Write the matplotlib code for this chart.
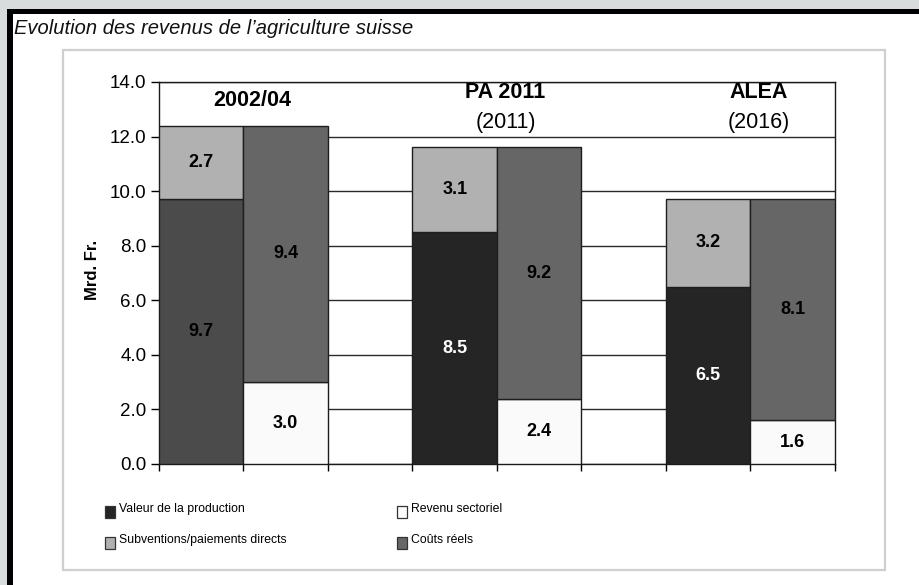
import matplotlib
matplotlib.use("Agg")
import matplotlib.pyplot as plt
from matplotlib.patches import Rectangle

# ---- data ----
groups = ["2002/04", "PA 2011", "ALEA"]
group_years = ["", "(2011)", "(2016)"]
valeur_production = [9.7, 8.5, 6.5]
subventions = [2.7, 3.1, 3.2]
revenu_sectoriel = [3.0, 2.4, 1.6]
couts_reels = [9.4, 9.2, 8.1]
legend_labels = ["Valeur de la production", "Revenu sectoriel",
                 "Subventions/paiements directs", "Coûts réels"]
yticks = [0, 2, 4, 6, 8, 10, 12, 14]

W, H = 920, 585
plt.rcParams['font.family'] = ['Liberation Sans', 'DejaVu Sans']
fig = plt.figure(figsize=(W / 100, H / 100), dpi=100)
fig.patch.set_facecolor('white')

def fx(px):
    return px / W

def fy(py):
    return 1 - py / H

# outer gray strip and black frame
fig.patches.append(Rectangle((0, fy(9)), 1, 9 / H, transform=fig.transFigure,
                             facecolor='#d9dcdc', edgecolor='none', zorder=0))
fig.patches.append(Rectangle((0, 0), fx(7), 1, transform=fig.transFigure,
                             facecolor='#d9dcdc', edgecolor='none', zorder=0))
fig.patches.append(Rectangle((fx(7), fy(14)), 1, 5 / H, transform=fig.transFigure,
                             facecolor='black', edgecolor='none', zorder=1))
fig.patches.append(Rectangle((fx(7), 0), 5.5 / W, fy(9), transform=fig.transFigure,
                             facecolor='black', edgecolor='none', zorder=1))
# inner light box
fig.patches.append(Rectangle((fx(63), fy(570)), (885 - 63) / W, (570 - 50) / H,
                             transform=fig.transFigure, facecolor='none',
                             edgecolor='#cfcfcf', lw=1.6, zorder=1))

fig.text(fx(14), fy(29), "Evolution des revenus de l\u2019agriculture suisse",
         fontsize=14.5, style='italic', ha='left', va='center', color='#111111')

ax = fig.add_axes([fx(159), fy(464), (835 - 159) / W, (464 - 82) / H])
ax.set_xlim(0, 8)
ax.set_ylim(0, 14)

c_val = ['#4b4b4b', '#252525', '#252525']
c_sub = '#b1b1b1'
c_cout = '#666666'
c_rev = '#fafafa'
edge = '#1e1e1e'
vfs = 13

for i in range(3):
    x1 = 3 * i + 0.5
    x2 = 3 * i + 1.5
    ax.bar(x1, valeur_production[i], width=1, color=c_val[i], edgecolor=edge, lw=1, zorder=3)
    ax.bar(x1, subventions[i], bottom=valeur_production[i], width=1, color=c_sub,
           edgecolor=edge, lw=1, zorder=3)
    ax.bar(x2, revenu_sectoriel[i], width=1, color=c_rev, edgecolor=edge, lw=1, zorder=3)
    ax.bar(x2, couts_reels[i], bottom=revenu_sectoriel[i], width=1, color=c_cout,
           edgecolor=edge, lw=1, zorder=3)
    vcol = 'white' if i > 0 else 'black'
    ax.text(x1, valeur_production[i] / 2, f"{valeur_production[i]:.1f}", ha='center',
            va='center', fontsize=vfs, fontweight='bold', color=vcol, zorder=5)
    ax.text(x1, valeur_production[i] + subventions[i] / 2, f"{subventions[i]:.1f}",
            ha='center', va='center', fontsize=vfs, fontweight='bold', color='black', zorder=5)
    ax.text(x2, revenu_sectoriel[i] / 2, f"{revenu_sectoriel[i]:.1f}", ha='center',
            va='center', fontsize=vfs, fontweight='bold', color='black', zorder=5)
    ax.text(x2, revenu_sectoriel[i] + couts_reels[i] / 2, f"{couts_reels[i]:.1f}",
            ha='center', va='center', fontsize=vfs, fontweight='bold', color='black', zorder=5)
    # header labels
    gx = 3 * i + 1 + 0.1
    if group_years[i]:
        ax.text(gx, 13.63, groups[i], ha='center', va='center', fontsize=15.5,
                fontweight='bold', zorder=5)
        ax.text(gx, 12.53, group_years[i], ha='center', va='center', fontsize=15.5, zorder=5)
    else:
        ax.text(gx, 13.34, groups[i], ha='center', va='center', fontsize=15.5,
                fontweight='bold', zorder=5)

ax.set_yticks(yticks)
ax.set_yticklabels([f"{v:.1f}" for v in yticks], fontsize=13.5)
ax.set_xticks(range(0, 9))
ax.set_xticklabels([])
ax.tick_params(axis='y', direction='out', length=6, width=1, pad=3, colors='black')
ax.tick_params(axis='x', direction='out', length=5, width=1)
ax.yaxis.grid(True, color='#2a2a2a', lw=1.0, zorder=0)
ax.set_axisbelow(True)
for s in ax.spines.values():
    s.set_color('#1a1a1a')
    s.set_linewidth(1.0)

fig.text(fx(93), fy(270), "Mrd. Fr.", rotation=90, fontsize=12, fontweight='bold',
         ha='center', va='center')

# legend (manual)
leg_colors = ['#252525', '#fafafa', '#b1b1b1', '#666666']
leg_pos = [(105, 512), (397, 512), (105, 543), (397, 543)]
for lab, col, (px, py) in zip(legend_labels, leg_colors, leg_pos):
    fig.patches.append(Rectangle((fx(px), fy(py + 6)), 10 / W, 12 / H,
                                 transform=fig.transFigure, facecolor=col,
                                 edgecolor='#333333', lw=0.9, zorder=3))
    fig.text(fx(px + 14), fy(py - 3), lab, fontsize=8.8, ha='left', va='center')

fig.savefig("out.png", dpi=100)
